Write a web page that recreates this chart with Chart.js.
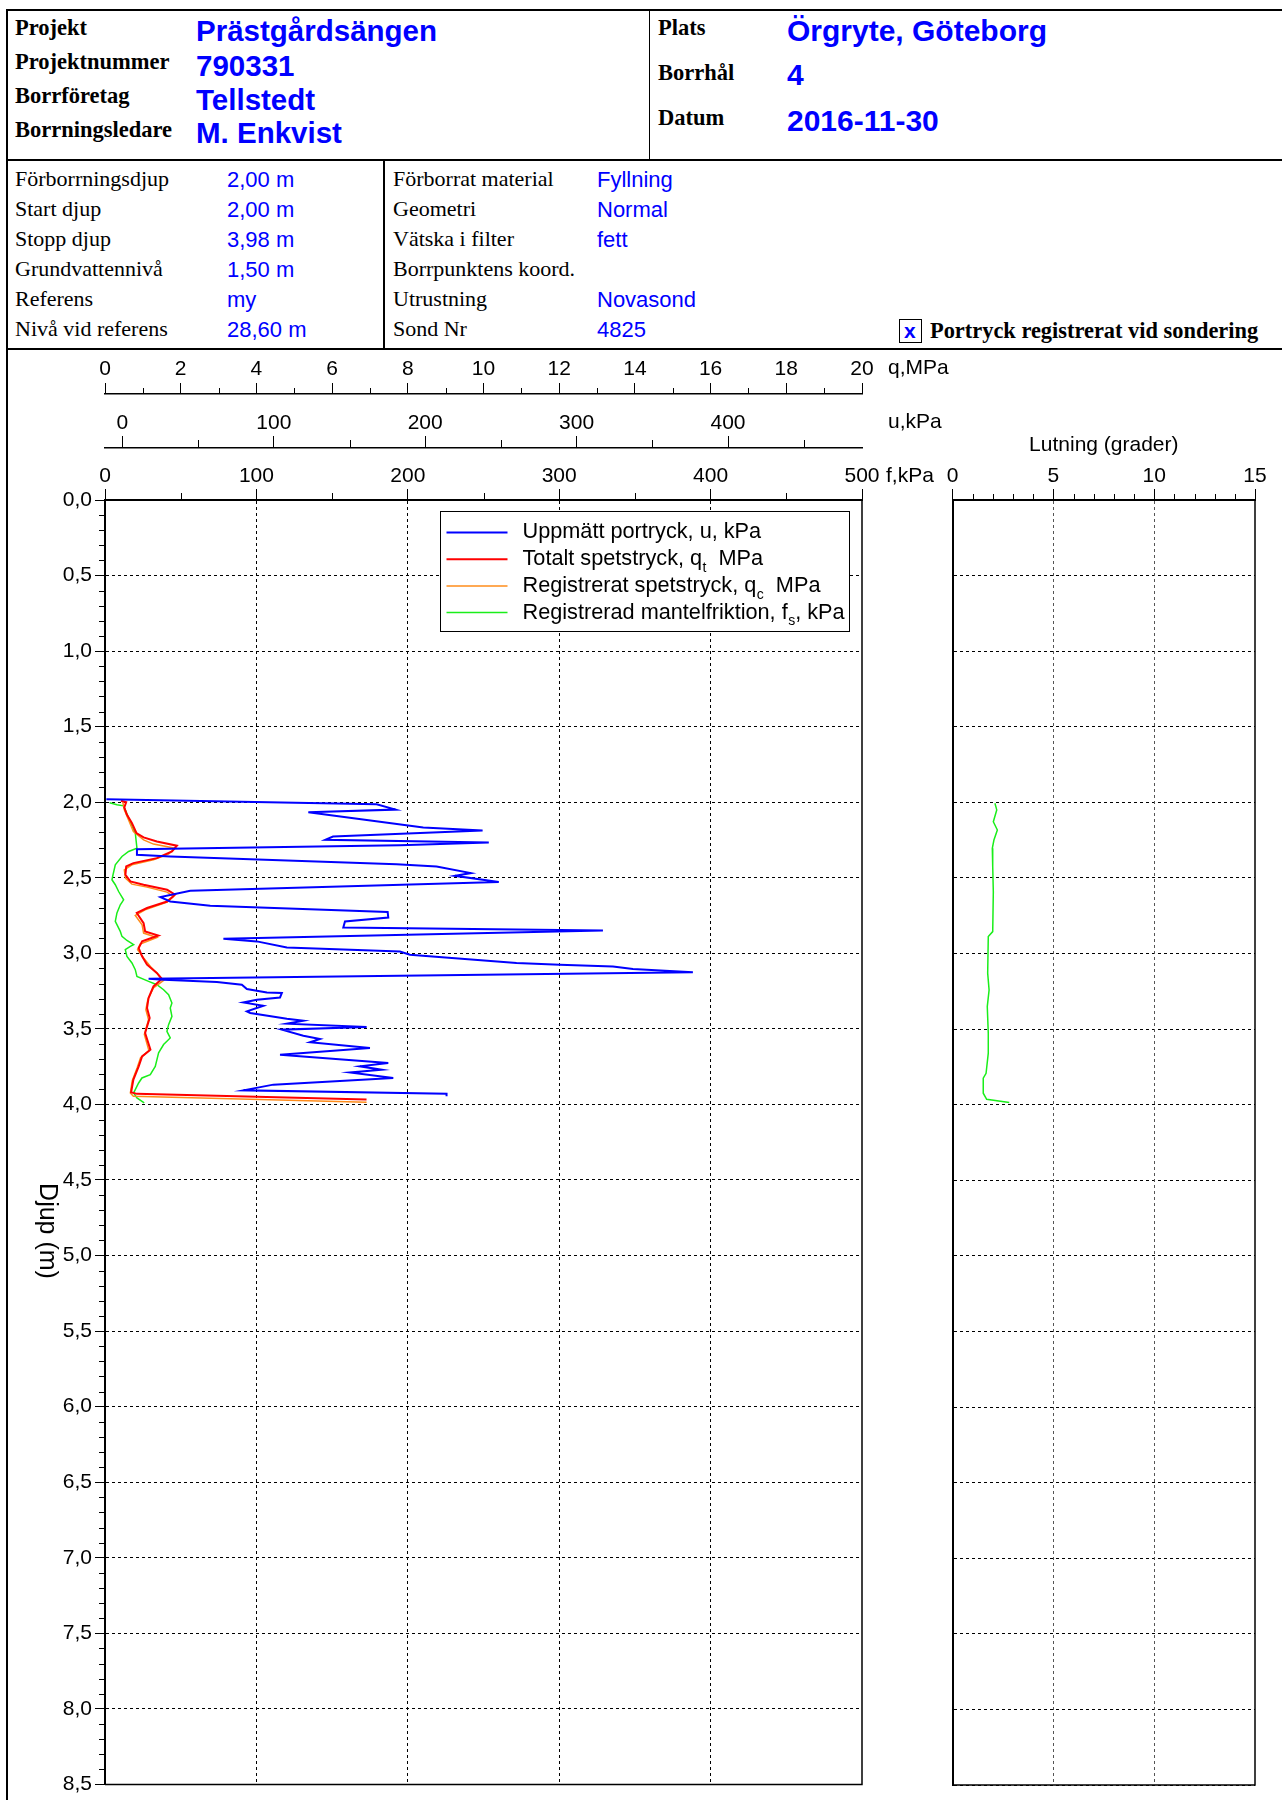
<!DOCTYPE html>
<html>
<head>
<meta charset="utf-8">
<script src="https://cdn.jsdelivr.net/npm/chart.js@4.4.0/dist/chart.umd.min.js"></script>
<style>
  body { margin: 0; background: #fff; width: 1282px; height: 1800px; position: relative; overflow: hidden; }
  .t { position: absolute; white-space: nowrap; line-height: 1; }
  .ln { position: absolute; background: #000; }
  #mainWrap { position: absolute; left: 0; top: 350px; width: 980px; height: 1450px; }
  #sideWrap { position: absolute; left: 920px; top: 350px; width: 362px; height: 1450px; }
  .box { position: absolute; left: 899px; top: 319px; width: 21px; height: 22px; border: 1px solid #000; }
</style>
</head>
<body>
<div class="ln" style="left:6px;top:9px;width:1276px;height:2px"></div>
<div class="ln" style="left:6px;top:159px;width:1276px;height:2px"></div>
<div class="ln" style="left:6px;top:348px;width:1276px;height:2px"></div>
<div class="ln" style="left:6px;top:9px;width:2px;height:1791px"></div>
<div class="ln" style="left:649px;top:10px;width:1px;height:150px"></div>
<div class="ln" style="left:383px;top:160px;width:2px;height:190px"></div>
<div class="box"></div>

<div id="mainWrap"><canvas id="main" width="980" height="1450"></canvas></div>
<div id="sideWrap"><canvas id="side" width="362" height="1450"></canvas></div>

<script>
// ---- header texts ----
const headLabels = ['Projekt', 'Projektnummer', 'Borrföretag', 'Borrningsledare'];
const headValues = ['Prästgårdsängen', '790331', 'Tellstedt', 'M. Enkvist'];
const siteLabels = ['Plats', 'Borrhål', 'Datum'];
const siteValues = ['Örgryte, Göteborg', '4', '2016-11-30'];
const infoLabels1 = ['Förborrningsdjup', 'Start djup', 'Stopp djup', 'Grundvattennivå', 'Referens', 'Nivå vid referens'];
const infoValues1 = ['2,00 m', '2,00 m', '3,98 m', '1,50 m', 'my', '28,60 m'];
const infoLabels2 = ['Förborrat material', 'Geometri', 'Vätska i filter', 'Borrpunktens koord.', 'Utrustning', 'Sond Nr'];
const infoValues2 = ['Fyllning', 'Normal', 'fett', '', 'Novasond', '4825'];

// ---- sounding data (depth in m) ----
const uDepth = [1.98, 2.013, 2.049, 2.066, 2.167, 2.187, 2.227, 2.249, 2.267, 2.285, 2.311, 2.348, 2.359, 2.41, 2.425,
  2.469, 2.487, 2.528, 2.586, 2.628, 2.657, 2.685, 2.727, 2.763, 2.789, 2.829, 2.849, 2.903, 2.921, 2.961, 2.988,
  3.009, 3.064, 3.075, 3.087, 3.104, 3.126, 3.168, 3.175, 3.19, 3.208, 3.236, 3.259, 3.263, 3.292, 3.307, 3.325,
  3.347, 3.384, 3.395, 3.433, 3.446, 3.466, 3.488, 3.505, 3.545, 3.567, 3.589, 3.626, 3.671, 3.726, 3.748, 3.77,
  3.788, 3.825, 3.869, 3.907, 3.929, 3.946];
const uKPa = [-10.6, 167.9, 180.5, 122.8, 198.7, 237.9, 139.1, 134.0, 242.0, 183.3, 9.6, 9.6, 31.6, 181.1, 207.5,
  230.2, 219.6, 248.6, 44.8, 25.1, 31.6, 58.0, 175.2, 175.6, 147.0, 145.9, 317.4, 66.7, 88.8, 108.6, 183.3,
  189.9, 260.3, 288.9, 324.0, 337.2, 376.8, 17.3, 27.2, 62.4, 78.9, 82.2, 95.4, 105.3, 104.1, 88.8, 79.9,
  93.1, 82.2, 84.4, 108.6, 119.5, 108.6, 161.3, 105.3, 119.5, 130.5, 123.9, 163.5, 104.1, 175.6, 156.9, 171.2,
  150.3, 178.9, 99.7, 79.9, 214.1, 214.1];

const qtDepth = [1.99, 2.0, 2.035, 2.083, 2.138, 2.204, 2.233, 2.26, 2.288, 2.326, 2.37, 2.403, 2.425, 2.48, 2.524,
  2.546, 2.579, 2.612, 2.657, 2.7, 2.733, 2.8, 2.855, 2.882, 2.921, 2.965, 3.02, 3.075, 3.13, 3.17, 3.219, 3.296,
  3.362, 3.428, 3.527, 3.638, 3.682, 3.748, 3.836, 3.92, 3.93, 3.968];
const qtMPa = [0.42, 0.56, 0.51, 0.58, 0.71, 0.83, 1.02, 1.37, 1.90, 1.77, 1.37, 0.75, 0.56, 0.54, 0.67,
  1.02, 1.64, 1.85, 1.64, 1.11, 0.84, 1.02, 1.06, 1.41, 0.98, 0.89, 0.98, 1.11, 1.37, 1.50, 1.28, 1.15,
  1.11, 1.18, 1.06, 1.20, 0.98, 0.89, 0.75, 0.69, 0.84, 6.91];

const qcDepth = [2.0, 2.05, 2.116, 2.194, 2.249, 2.277, 2.304, 2.343, 2.381, 2.414, 2.447, 2.502, 2.542, 2.562, 2.595,
  2.624, 2.661, 2.712, 2.749, 2.811, 2.866, 2.895, 2.939, 2.976, 3.031, 3.087, 3.142, 3.179, 3.229, 3.307, 3.373,
  3.439, 3.538, 3.644, 3.69, 3.757, 3.843, 3.924, 3.946, 3.986];
const qcMPa = [0.47, 0.51, 0.62, 0.75, 1.02, 1.28, 1.85, 1.68, 1.28, 0.71, 0.51, 0.54, 0.71, 1.11, 1.64,
  1.81, 1.64, 1.06, 0.80, 0.98, 1.02, 1.37, 0.93, 0.86, 1.02, 1.20, 1.41, 1.55, 1.28, 1.13, 1.08,
  1.15, 1.04, 1.16, 0.94, 0.85, 0.72, 0.67, 0.75, 6.91];

const fsDepth = [2.004, 2.017, 2.024, 2.05, 2.105, 2.161, 2.204, 2.304, 2.326, 2.359, 2.414, 2.48, 2.513, 2.546, 2.591,
  2.646, 2.679, 2.733, 2.789, 2.855, 2.888, 2.915, 2.943, 2.954, 2.976, 3.02, 3.064, 3.108, 3.153, 3.186, 3.208,
  3.241, 3.274, 3.329, 3.362, 3.417, 3.472, 3.516, 3.56, 3.604, 3.659, 3.748, 3.803, 3.825, 3.858, 3.902, 3.924,
  3.957, 3.99];
const fsKPa = [3.0, 7.9, 12.3, 13.4, 15.6, 17.8, 20.0, 21.1, 15.6, 11.2, 6.8, 5.3, 4.6, 6.8, 9.0,
  12.3, 10.1, 7.9, 6.8, 10.1, 11.2, 14.5, 18.9, 16.7, 13.4, 14.5, 17.8, 20.0, 21.1, 28.8, 34.3,
  38.7, 42.0, 44.2, 43.1, 44.2, 42.0, 40.9, 43.1, 38.7, 35.4, 33.2, 29.9, 24.4, 22.2, 20.0, 18.9,
  21.1, 25.9];

const lutDepth = [2.006, 2.05, 2.128, 2.183, 2.249, 2.304, 2.425, 2.591, 2.855, 2.888, 3.13, 3.241, 3.351, 3.527,
  3.659, 3.792, 3.825, 3.924, 3.964, 3.986];
const lutDeg = [2.10, 2.19, 2.02, 2.22, 2.05, 1.97, 1.99, 2.02, 1.99, 1.77, 1.74, 1.81, 1.72, 1.77,
  1.77, 1.66, 1.52, 1.52, 1.69, 2.81];

// ---- tick labels ----
const depthTicks = [0, 0.5, 1, 1.5, 2, 2.5, 3, 3.5, 4, 4.5, 5, 5.5, 6, 6.5, 7, 7.5, 8, 8.5];
const qTicks = [0, 2, 4, 6, 8, 10, 12, 14, 16, 18, 20];
const uTicks = [0, 100, 200, 300, 400];
const fTicks = [0, 100, 200, 300, 400, 500];
const lutTicks = [0, 5, 10, 15];

// ---- header ----
function put(text, x, baseline, serif, size, weight, color) {
  const el = document.createElement('div');
  el.className = 't';
  el.textContent = text;
  const asc = serif ? 0.8375 : 0.8465;
  el.style.left = x + 'px';
  el.style.top = (baseline - asc * size) + 'px';
  el.style.fontFamily = serif ? "'Liberation Serif', 'Times New Roman', serif" : "'Liberation Sans', Arial, sans-serif";
  el.style.fontSize = size + 'px';
  el.style.fontWeight = weight;
  el.style.color = color;
  document.body.appendChild(el);
}
const BLUE = '#0000ff';
[35.5, 69.5, 104, 138].forEach((b, i) => {
  put(headLabels[i], 15, b, true, 22.5, 'bold', '#000');
});
[41, 75.5, 109.5, 143].forEach((b, i) => {
  put(headValues[i], 196, b, false, 29.5, 'bold', BLUE);
});
[35.5, 80.5, 125.5].forEach((b, i) => {
  put(siteLabels[i], 658, b, true, 22.5, 'bold', '#000');
});
[41, 85.5, 131].forEach((b, i) => {
  put(siteValues[i], 787, b, false, 30, 'bold', BLUE);
});
[186.5, 216.5, 246.5, 276.5, 306.5, 336.5].forEach((b, i) => {
  put(infoLabels1[i], 15, b, true, 22, 'normal', '#000');
  put(infoValues1[i], 227, b + 1.5, false, 22, 'normal', BLUE);
  put(infoLabels2[i], 393, b, true, 22, 'normal', '#000');
  if (infoValues2[i]) put(infoValues2[i], 597, b + 1.5, false, 22, 'normal', BLUE);
});
put('x', 904, 337.5, false, 21, 'bold', BLUE);
put('Portryck registrerat vid sondering', 930, 338.5, true, 22.4, 'bold', '#000');

// ---- charts ----
Chart.defaults.font.family = "'Liberation Sans', Arial, sans-serif";
Chart.defaults.font.size = 21;
Chart.defaults.color = '#000';

const pts = (xs, ys) => xs.map((x, i) => ({ x: x, y: ys[i] }));
const setTicks = (vals) => (s) => { s.ticks = vals.map(v => ({ value: v })); };
const range = (a, b, step, skip) => {
  const out = [];
  for (let k = 0; a + k * step <= b + 1e-9; k++) {
    const v = +(a + k * step).toFixed(3);
    if (!skip || Math.abs(v / skip - Math.round(v / skip)) > 1e-6) out.push(v);
  }
  return out;
};

// minor tick marks, drawn with the scales' own pixel mapping
const minorTicks = {
  id: 'minorTicks',
  afterDraw(chart, args, opts) {
    const ctx = chart.ctx;
    ctx.save();
    ctx.strokeStyle = '#000';
    ctx.lineWidth = 1;
    ctx.beginPath();
    opts.marks.forEach(m => {
      const s = chart.scales[m.axis];
      m.values.forEach(v => {
        const p = Math.round(s.getPixelForValue(v)) + 0.5;
        if (s.isHorizontal()) {
          ctx.moveTo(p, s.bottom);
          ctx.lineTo(p, s.bottom - m.len);
        } else {
          ctx.moveTo(s.right, p);
          ctx.lineTo(s.right - m.len, p);
        }
      });
    });
    ctx.stroke();
    ctx.restore();
  }
};

// right + bottom edge of the plot box
const frame = {
  id: 'frame',
  afterDraw(chart) {
    const { ctx, chartArea: a } = chart;
    ctx.save();
    ctx.strokeStyle = '#000';
    ctx.lineWidth = 1.5;
    ctx.beginPath();
    ctx.moveTo(a.right, a.top);
    ctx.lineTo(a.right, a.bottom);
    ctx.lineTo(a.left, a.bottom);
    ctx.stroke();
    ctx.restore();
  }
};

// unit labels, depth title and legend box
const mainText = {
  id: 'mainText',
  afterDraw(chart) {
    const { ctx, chartArea: a, scales } = chart;
    ctx.save();
    ctx.fillStyle = '#000';
    ctx.font = "21px 'Liberation Sans', Arial, sans-serif";
    ctx.textBaseline = 'middle';
    ctx.textAlign = 'left';
    ctx.fillText('q,MPa', a.right + 26, scales.q.bottom - 26);
    ctx.fillText('u,kPa', a.right + 26, scales.u.bottom - 25.5);
    ctx.fillText('f,kPa', a.right + 24, scales.f.bottom - 23.5);

    // Djup (m)
    ctx.save();
    ctx.translate(47, 881);
    ctx.rotate(Math.PI / 2);
    ctx.textAlign = 'center';
    ctx.font = "25px 'Liberation Sans', Arial, sans-serif";
    ctx.fillText('Djup (m)', 0, 0);
    ctx.restore();

    // legend
    const x0 = a.left + 334.5, y0 = a.top + 11, w = 409, h = 120;
    ctx.fillStyle = '#fff';
    ctx.fillRect(x0, y0, w, h);
    ctx.strokeStyle = '#000';
    ctx.lineWidth = 1;
    ctx.strokeRect(Math.round(x0) + 0.5, Math.round(y0) + 0.5, w, h);
    chart.data.datasets.forEach((ds, i) => {
      const y = y0 + 21.5 + i * 26.7;
      ctx.strokeStyle = ds.borderColor;
      ctx.lineWidth = ds.borderWidth;
      ctx.beginPath();
      ctx.moveTo(x0 + 7, y);
      ctx.lineTo(x0 + 68, y);
      ctx.stroke();
      ctx.fillStyle = '#000';
      let x = x0 + 83;
      ds.legendParts.forEach(part => {
        if (typeof part === 'string') {
          ctx.font = "21.7px 'Liberation Sans', Arial, sans-serif";
          ctx.fillText(part, x, y);
          x += ctx.measureText(part).width;
        } else {
          ctx.font = "14px 'Liberation Sans', Arial, sans-serif";
          ctx.fillText(part.sub, x + 0.5, y + 9);
          x += ctx.measureText(part.sub).width + 0.5;
        }
      });
    });
    ctx.restore();
  }
};

const lineDs = { showLine: true, pointRadius: 0, fill: false, tension: 0 };

new Chart(document.getElementById('main'), {
  type: 'scatter',
  data: {
    datasets: [
      Object.assign({ label: 'Uppmätt portryck, u, kPa', legendParts: ['Uppmätt portryck, u, kPa'],
        data: pts(uKPa, uDepth), xAxisID: 'u', yAxisID: 'y', borderColor: '#0000ff', borderWidth: 2 }, lineDs),
      Object.assign({ label: 'Totalt spetstryck, qt MPa', legendParts: ['Totalt spetstryck, q', { sub: 't' }, '  MPa'],
        data: pts(qtMPa, qtDepth), xAxisID: 'q', yAxisID: 'y', borderColor: '#ff0000', borderWidth: 2 }, lineDs),
      Object.assign({ label: 'Registrerat spetstryck, qc MPa', legendParts: ['Registrerat spetstryck, q', { sub: 'c' }, '  MPa'],
        data: pts(qcMPa, qcDepth), xAxisID: 'q', yAxisID: 'y', borderColor: '#ff8c1a', borderWidth: 1.5 }, lineDs),
      Object.assign({ label: 'Registrerad mantelfriktion, fs, kPa', legendParts: ['Registrerad mantelfriktion, f', { sub: 's' }, ', kPa'],
        data: pts(fsKPa, fsDepth), xAxisID: 'f', yAxisID: 'y', borderColor: '#1aee1a', borderWidth: 1.5 }, lineDs)
    ]
  },
  options: {
    responsive: false,
    animation: false,
    events: [],
    layout: { padding: { left: 0, top: 0, right: 118, bottom: 15 } },
    plugins: {
      legend: { display: false },
      tooltip: { enabled: false },
      minorTicks: {
        marks: [
          { axis: 'q', values: range(1, 19, 2), len: 6 },
          { axis: 'u', values: range(50, 450, 100), len: 8 },
          { axis: 'f', values: range(50, 450, 100), len: 7 },
          { axis: 'y', values: range(0, 8.5, 0.1, 0.5), len: 6 }
        ]
      }
    },
    scales: {
      y: {
        type: 'linear', position: 'left', reverse: true, min: 0, max: 8.5,
        afterBuildTicks: setTicks(depthTicks),
        afterFit: s => { s.width = 105; },
        ticks: { autoSkip: false, padding: 3, callback: v => v.toFixed(1).replace('.', ',') },
        grid: { color: '#000', lineWidth: 1, tickLength: 10, tickColor: '#000' },
        border: { color: '#000', width: 2, dash: [3, 3] }
      },
      f: {
        type: 'linear', position: 'top', min: 0, max: 500, weight: 0,
        afterBuildTicks: setTicks(fTicks),
        afterFit: s => { s.height = 52; },
        ticks: { autoSkip: false, maxRotation: 0, padding: 0 },
        grid: {
          color: c => (c.tick && (c.tick.value === 0 || c.tick.value === 500)) ? 'rgba(0,0,0,0)' : '#000',
          tickColor: '#000', tickLength: 11
        },
        border: { color: '#000', width: 2, dash: [3, 3] }
      },
      u: {
        type: 'linear', position: 'top', min: -11.5, max: 488.5, weight: 1,
        afterBuildTicks: setTicks(uTicks),
        afterFit: s => { s.height = 54; },
        ticks: { autoSkip: false, maxRotation: 0, padding: 0.5 },
        grid: { drawOnChartArea: false, tickColor: '#000', tickLength: 12 },
        border: { color: '#000', width: 1.5 }
      },
      q: {
        type: 'linear', position: 'top', min: 0, max: 20, weight: 2,
        afterBuildTicks: setTicks(qTicks),
        afterFit: s => { s.height = 44; },
        ticks: { autoSkip: false, maxRotation: 0, padding: 1.5 },
        grid: { drawOnChartArea: false, tickColor: '#000', tickLength: 11 },
        border: { color: '#000', width: 1.5 }
      }
    }
  },
  plugins: [minorTicks, frame, mainText]
});

new Chart(document.getElementById('side'), {
  type: 'scatter',
  data: {
    datasets: [
      Object.assign({ label: 'Lutning', data: pts(lutDeg, lutDepth), borderColor: '#1aee1a', borderWidth: 1.5 }, lineDs)
    ]
  },
  options: {
    responsive: false,
    animation: false,
    events: [],
    layout: { padding: { left: 0, top: 0, right: 27, bottom: 15 } },
    plugins: {
      legend: { display: false },
      tooltip: { enabled: false },
      minorTicks: { marks: [{ axis: 'x', values: range(0, 15, 1, 5), len: 6 }] }
    },
    scales: {
      y: {
        type: 'linear', position: 'left', reverse: true, min: 0, max: 8.5,
        afterBuildTicks: setTicks(depthTicks),
        afterFit: s => { s.width = 32.6; },
        ticks: { display: false },
        grid: { color: '#000', lineWidth: 1, drawTicks: false },
        border: { color: '#000', width: 2, dash: [3, 3] }
      },
      x: {
        type: 'linear', position: 'top', min: 0, max: 15,
        afterBuildTicks: setTicks(lutTicks),
        afterFit: s => { s.height = 150; },
        ticks: { autoSkip: false, maxRotation: 0, padding: 0 },
        title: { display: true, text: 'Lutning (grader)', padding: { top: 82.5, bottom: 0 }, font: { size: 21 } },
        grid: {
          color: c => (c.tick && (c.tick.value === 0 || c.tick.value === 15)) ? 'rgba(0,0,0,0)' : '#555',
          tickColor: '#000', tickLength: 11
        },
        border: { color: '#000', width: 2, dash: [3, 3] }
      }
    }
  },
  plugins: [minorTicks, frame]
});
</script>
</body>
</html>
